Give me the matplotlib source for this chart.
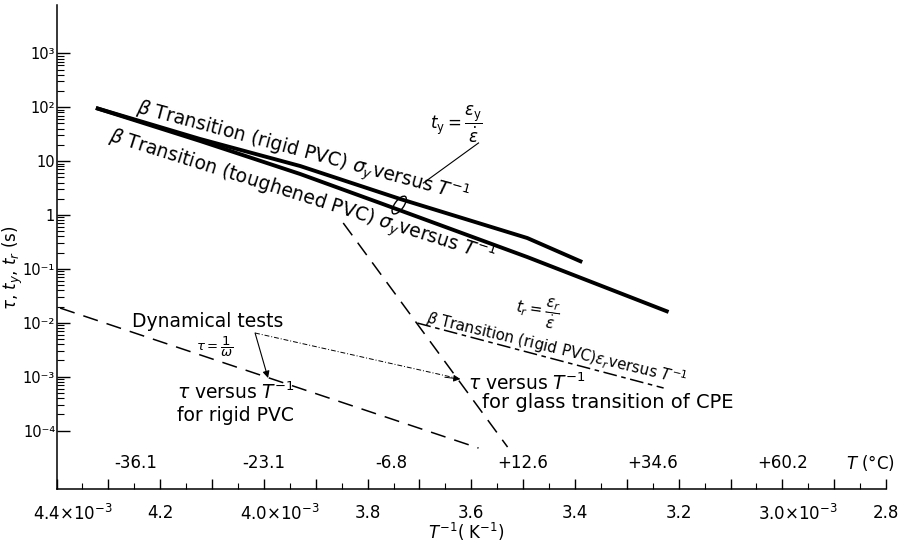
import matplotlib.pyplot as plt
from matplotlib import transforms
from matplotlib.patches import Ellipse

# 1/T in units of 1e-3 K^-1, times in s
x_rigid = [4.324, 4.123, 3.930, 3.737, 3.492, 3.386]
t_rigid = [96.7, 25.7, 8.1, 1.98, 0.374, 0.134]

x_tough = [4.324, 4.123, 3.930, 3.776, 3.492, 3.2195]
t_tough = [96.7, 23.6, 5.76, 1.67, 0.166, 0.0159]

x_tau_pvc = [4.393, 3.586]
tau_pvc = [0.0188, 4.75e-5]

x_tau_cpe = [3.847, 3.530]
tau_cpe = [0.711, 4.96e-5]

x_eps_r = [3.704, 3.229]
t_eps_r = [0.0099, 6.17e-4]

# arrows from "Dynamical tests"
dyn_start = (4.017, 6.47e-3)
dyn_to_pvc = (3.992, 9.46e-4)
dyn_to_cpe = (3.621, 9.06e-4)

# leader from the t_y formula to the yield curves
ty_mark = (3.739, 1.53)
ty_leader_x = [3.6925, 3.586]
ty_leader_y = [3.92, 21.7]

y_major = [1e-4, 1e-3, 1e-2, 1e-1, 1, 10, 1e2, 1e3]
y_labels = ['10⁻⁴', '10⁻³', '10⁻²', '10⁻¹', '1', '10', '10²', '10³']

x_major = [4.4, 4.3, 4.2, 4.1, 4.0, 3.9, 3.8, 3.7, 3.6, 3.5, 3.4, 3.3, 3.2, 3.1, 3.0, 2.9, 2.8]
x_labels = [r'4.4$\times10^{-3}$', '', '4.2', '', r'4.0$\times10^{-3}$', '', '3.8', '', '3.6', '',
            '3.4', '', '3.2', '', r'3.0$\times10^{-3}$', '', '2.8']

temp_labels = ['-36.1', '-23.1', '-6.8', '+12.6', '+34.6', '+60.2']
temp_pos = [4.247, 4.0, 3.755, 3.5, 3.25, 3.0]

fig = plt.figure(figsize=(9.07, 5.53), dpi=100)
ax = fig.add_axes([0.0623, 0.1157, 0.9146, 0.8753])
ax.set_yscale('log')
ax.set_xlim(4.4, 2.8)
ax.set_ylim(10 ** -5.083, 10 ** 3.896)

# yield-time curves
ax.plot(x_rigid, t_rigid, color='k', lw=2.8, solid_capstyle='butt')
ax.plot(x_tough, t_tough, color='k', lw=2.8, solid_capstyle='butt')

# relaxation times
ax.plot(x_tau_pvc, tau_pvc, color='k', lw=1.1, ls=(0, (10, 6)))
ax.plot(x_tau_cpe, tau_cpe, color='k', lw=1.1, ls=(0, (10, 6)))
ax.plot(x_eps_r, t_eps_r, color='k', lw=1.1, ls=(0, (9, 3, 3, 3)))

ax.annotate('', xy=dyn_to_pvc, xytext=dyn_start,
            arrowprops=dict(arrowstyle='-|>', color='k', lw=0.8, mutation_scale=10, shrinkA=0, shrinkB=0))
ax.plot([dyn_start[0], dyn_to_cpe[0]], [dyn_start[1], dyn_to_cpe[1]], color='k', lw=0.7,
        ls=(0, (5, 2, 1, 2)))
ax.annotate('', xy=dyn_to_cpe, xytext=(dyn_to_cpe[0] + 0.03, dyn_to_cpe[1] * 1.08),
            arrowprops=dict(arrowstyle='-|>', color='k', lw=0.7, mutation_scale=10, shrinkA=0, shrinkB=0))

ax.plot(ty_leader_x, ty_leader_y, color='k', lw=0.8)
ell_trans = fig.dpi_scale_trans + transforms.ScaledTranslation(ty_mark[0], ty_mark[1], ax.transData)
ax.add_patch(Ellipse((0, 0), 0.21, 0.09, angle=54, transform=ell_trans, fill=False, ec='k', lw=1.0))

# curve labels
ax.text(3.926, 14.3, r'$\beta$ Transition (rigid PVC) $\sigma_y$versus $T^{-1}$', fontsize=13.5,
        rotation=-15, ha='center', va='center', rotation_mode='anchor')
ax.text(3.928, 2.1, r'$\beta$ Transition (toughened PVC) $\sigma_y$versus $T^{-1}$', fontsize=13.5,
        rotation=-17.5, ha='center', va='center', rotation_mode='anchor')
ax.text(3.436, 3.3e-3, r'$\beta$ Transition (rigid PVC)$\epsilon_r$versus $T^{-1}$', fontsize=10.8,
        rotation=-13.5, ha='center', va='center', rotation_mode='anchor')

ax.text(3.68, 48.8, r'$t_{\rm y}=\dfrac{\epsilon_{\rm y}}{\dot{\epsilon}}$', fontsize=12, ha='left', va='center')
ax.text(3.472, 0.0159, r'$t_r=\dfrac{\epsilon_r}{\dot{\epsilon}}$', fontsize=11, ha='center', va='center',
        rotation=-8)

ax.text(4.108, 0.0108, 'Dynamical tests', fontsize=13.5, ha='center', va='center')
ax.text(4.094, 3.56e-3, r'$\tau=\dfrac{1}{\omega}$', fontsize=9.5, ha='center', va='center')
ax.text(4.167, 5.2e-4, r'$\tau$ versus $T^{-1}$', fontsize=13.5, ha='left', va='center')
ax.text(4.167, 1.95e-4, 'for rigid PVC', fontsize=13.5, ha='left', va='center')
ax.text(3.606, 7.64e-4, r'$\tau$ versus $T^{-1}$', fontsize=13.5, ha='left', va='center')
ax.text(3.579, 3.39e-4, 'for glass transition of CPE', fontsize=14, ha='left', va='center')

# temperature scale in degrees C
xy_trans = ax.get_xaxis_transform()
for lab, pos in zip(temp_labels, temp_pos):
    ax.text(pos, 0.054, lab, transform=xy_trans, fontsize=12, ha='center', va='center')
ax.text(2.831, 0.054, r'$T$ (°C)', transform=xy_trans, fontsize=12, ha='center', va='center')

# axes
ax.spines['top'].set_visible(False)
ax.spines['right'].set_visible(False)
ax.spines['left'].set_linewidth(1.1)
ax.spines['bottom'].set_linewidth(1.1)

ax.set_yticks(y_major, y_labels)
ax.set_yticks([m * 10.0 ** k for k in range(-4, 3) for m in range(2, 10)], minor=True)
ax.yaxis.set_minor_formatter(plt.NullFormatter())
ax.tick_params(axis='y', which='major', direction='in', length=9, width=1, labelsize=10.5, pad=1)
ax.tick_params(axis='y', which='minor', direction='in', length=5, width=0.8)

ax.set_xticks(x_major, x_labels)
ax.set_xticks([4.35, 4.25, 4.15, 4.05, 3.95, 3.85, 3.75, 3.65, 3.55, 3.45, 3.35, 3.25, 3.15, 3.05, 2.95,
               2.85], minor=True)
ax.tick_params(axis='x', which='major', direction='in', length=7, width=1, labelsize=12, pad=11)
ax.tick_params(axis='x', which='minor', direction='in', length=4, width=0.8)

shift = transforms.ScaledTranslation(-0.24, 0, fig.dpi_scale_trans)
for label in ax.get_xticklabels():
    if 'times' in label.get_text():
        label.set_ha('left')
        label.set_transform(label.get_transform() + shift)

fig.text(466 / 907, 1 - 532 / 553, r'$T^{-1}$( K$^{-1}$)', fontsize=12, ha='center', va='center')
fig.text(13 / 907, 1 - 268 / 553, r'$\tau$, $t_y$, $t_r$ (s)', fontsize=12, rotation=90,
         ha='center', va='center')

fig.savefig('out.png', dpi=100)
